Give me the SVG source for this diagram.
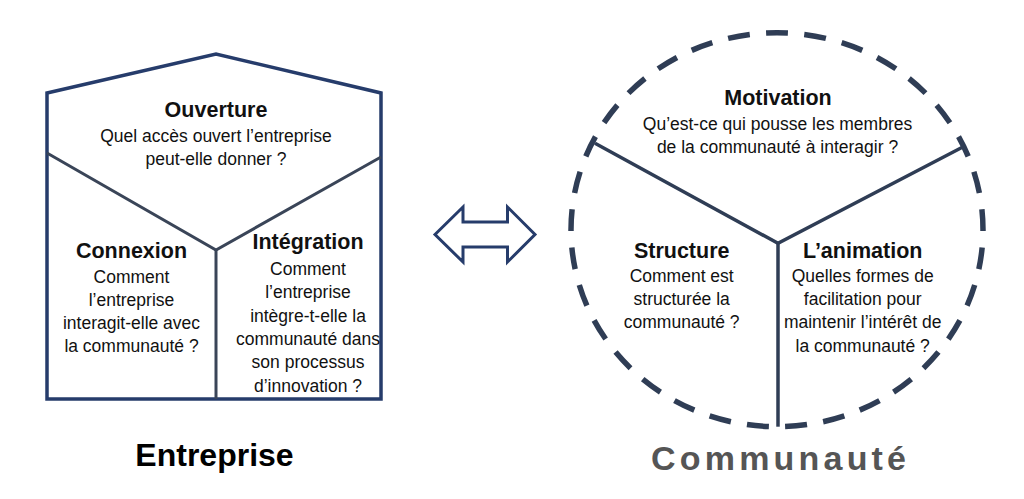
<svg xmlns="http://www.w3.org/2000/svg" width="1024" height="499" viewBox="0 0 1024 499">
<style>
  .t { font-family: "Liberation Sans", Arial, sans-serif; fill: #111; text-anchor: middle; }
  .h { font-size: 21.5px; font-weight: bold; }
  .b { font-size: 17.5px; }
  .house { fill: none; stroke: #263c6b; stroke-width: 3.5; stroke-linejoin: miter; }
  .div { fill: none; stroke: #3a4558; stroke-width: 3; }
  .cdiv { fill: none; stroke: #2f3d55; stroke-width: 3.5; }
  .ring { fill: none; stroke: #2f3d55; stroke-width: 5.5; }
</style>
<rect width="1024" height="499" fill="#fff"/>

<g id="entreprise-shape">
  <polygon class="house" points="47,93 216,54 381,93 381,399 47,399"/>
  <polyline class="div" points="47,153 216,250 381,157"/>
  <line class="div" x1="216" y1="250" x2="216" y2="399"/>
</g>

<g id="ouverture">
  <text class="t h" x="216" y="116.7">Ouverture</text>
  <text class="t b" x="216" y="141.7">Quel accès ouvert l’entreprise</text>
  <text class="t b" x="216" y="165">peut-elle donner ?</text>
</g>

<g id="connexion">
  <text class="t h" x="131.5" y="258">Connexion</text>
  <text class="t b" x="131.5" y="283">Comment</text>
  <text class="t b" x="131.5" y="306">l’entreprise</text>
  <text class="t b" x="131.5" y="329">interagit-elle avec</text>
  <text class="t b" x="131.5" y="352">la communauté ?</text>
</g>

<g id="integration">
  <text class="t h" x="308" y="249.3">Intégration</text>
  <text class="t b" x="308" y="275">Comment</text>
  <text class="t b" x="308" y="298.3">l’entreprise</text>
  <text class="t b" x="308" y="321.7">intègre-t-elle la</text>
  <text class="t b" x="308" y="345">communauté dans</text>
  <text class="t b" x="308" y="368.3">son processus</text>
  <text class="t b" x="308" y="391.7">d’innovation ?</text>
</g>

<g id="entreprise-title">
  <text class="t" x="214.5" y="466" style="font-size:32px;font-weight:bold;fill:#000">Entreprise</text>
</g>

<g id="connectors">
  <polygon points="435,234.5 463,207 463,222 507.5,222 507.5,207 535,234.5 507.5,262 507.5,247 463,247 463,262" fill="#fff" stroke="#263c6b" stroke-width="3" stroke-linejoin="miter"/>
</g>

<g id="communaute-shape">
  <path class="ring" pathLength="1266" stroke-dasharray="22 16.364" stroke-dashoffset="11" d="M777,32.7 A206,197 0 0 1 777,426.7 A206,197 0 0 1 777,32.7"/>
  <polyline class="cdiv" points="595,143.3 778,243.3 963.3,146.7"/>
  <line class="cdiv" x1="778" y1="243.3" x2="778" y2="426.7"/>
</g>

<g id="motivation">
  <text class="t h" x="778" y="105">Motivation</text>
  <text class="t b" x="777.5" y="130">Qu’est-ce qui pousse les membres</text>
  <text class="t b" x="777.5" y="153.3">de la communauté à interagir ?</text>
</g>

<g id="structure">
  <text class="t h" x="681.7" y="258.3">Structure</text>
  <text class="t b" x="681.7" y="281.7">Comment est</text>
  <text class="t b" x="681.7" y="305">structurée la</text>
  <text class="t b" x="681.7" y="328">communauté ?</text>
</g>

<g id="animation">
  <text class="t h" x="862.7" y="258.3">L’animation</text>
  <text class="t b" x="862.7" y="281.7">Quelles formes de</text>
  <text class="t b" x="862.7" y="305">facilitation pour</text>
  <text class="t b" x="862.7" y="328.3">maintenir l’intérêt de</text>
  <text class="t b" x="862.7" y="351.7">la communauté ?</text>
</g>

<g id="communaute-title">
  <text x="651" y="470" style="font-family:'Liberation Sans',Arial,sans-serif;font-size:34px;font-weight:bold;fill:#555;letter-spacing:4.2px">Communauté</text>
</g>
</svg>
